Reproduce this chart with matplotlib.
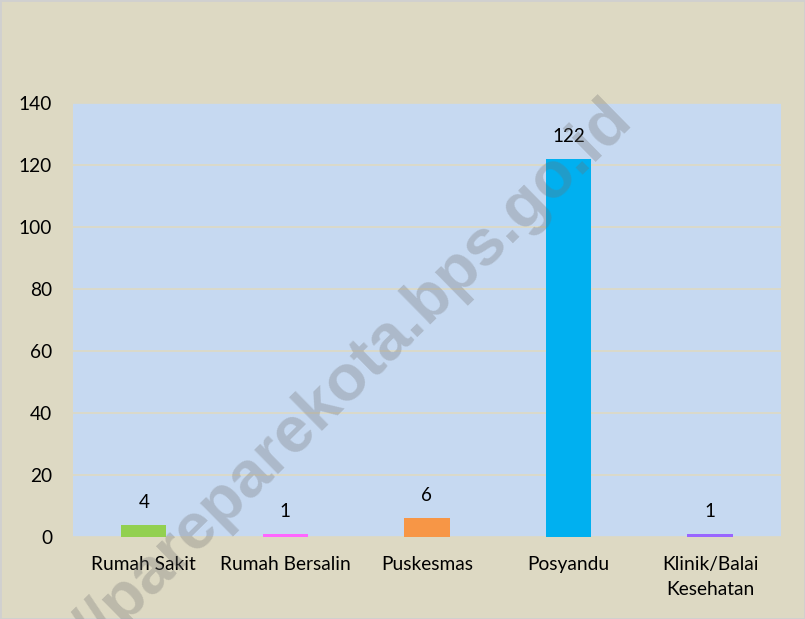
import matplotlib.pyplot as plt
from matplotlib.patches import Rectangle

# ── data ─────────────────────────────────────────────
categories = ["Rumah Sakit", "Rumah Bersalin", "Puskesmas", "Posyandu",
              "Klinik/Balai\nKesehatan"]
values = [4, 1, 6, 122, 1]
bar_colors = ["#92D050", "#FF66FF", "#F79646", "#00B0F0", "#9966FF"]
yticks = [0, 20, 40, 60, 80, 100, 120, 140]

BG = "#DDD9C3"
PLOT_BG = "#C6D9F1"
GRID = "#DDD9C3"

plt.rcParams["font.family"] = ["Lato", "DejaVu Sans"]

fig = plt.figure(figsize=(8.05, 6.19), dpi=100)
fig.patch.set_facecolor(BG)
fig.patches.append(Rectangle((0, 0), 1, 1, transform=fig.transFigure,
                             fill=False, edgecolor="#D0D0D0", linewidth=2))

ax = fig.add_axes([0.0907, 0.1325, 0.8793, 0.7011])
ax.set_facecolor(PLOT_BG)

x = range(len(categories))
bars = ax.bar(x, values, width=0.32, color=bar_colors, zorder=3)
for b, v in zip(bars, values):
    ax.annotate(str(v), (b.get_x() + b.get_width() / 2, v),
                xytext=(0, 10), textcoords="offset points",
                ha="center", va="bottom", fontsize=13.5, color="#000000")

ax.set_xlim(-0.5, len(categories) - 0.5)
ax.set_ylim(0, 140)
ax.set_yticks(yticks)
ax.set_xticks(list(x))
ax.set_xticklabels(categories, fontsize=13.8, linespacing=1.55)
ax.tick_params(axis="y", labelsize=13.8, length=0, pad=15)
ax.tick_params(axis="x", length=0, pad=14)
ax.grid(axis="y", color=GRID, linewidth=1.2, zorder=1)
for s in ax.spines.values():
    s.set_visible(False)

# watermark
fig.text(0.787, 0.805, "http://pareparekota.bps.go.id", fontsize=47,
         fontweight="bold", family="Liberation Sans", color="#707070",
         alpha=0.3, rotation=44.5, ha="right", va="baseline",
         rotation_mode="anchor", zorder=10)

fig.savefig("out.png", dpi=100, facecolor=fig.get_facecolor())
